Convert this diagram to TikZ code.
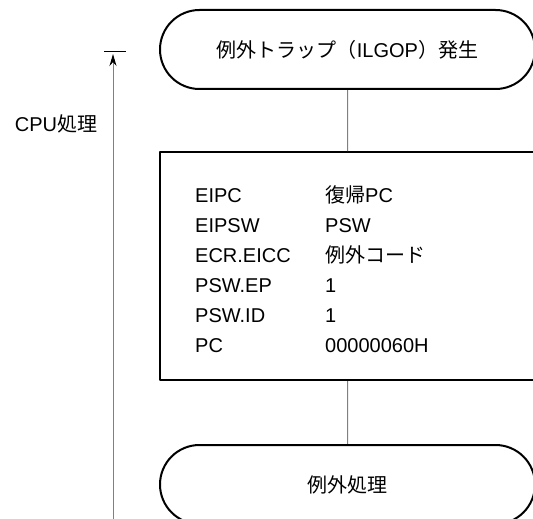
\documentclass[tikz,border=0pt]{standalone}
\usepackage{fontspec}
\setmainfont{Liberation Sans}
\newfontfamily\jp{Noto Sans CJK JP}
\usetikzlibrary{shapes.misc,arrows.meta}
\tikzset{
	term/.style={draw, line width=2pt, rounded rectangle, rounded rectangle arc length=180, minimum width=375pt, minimum height=79pt, inner sep=0pt},
	regbox/.style={draw, line width=2pt, rectangle, minimum width=375pt, minimum height=228pt, inner sep=0pt},
	link/.style={gray, line width=1pt},
	reg/.style={anchor=base west, inner sep=0pt}
}
\begin{document}
\begin{tikzpicture}[x=1pt, y=-1pt, line join=round, font=\fontsize{20}{24}\selectfont]
				\useasboundingbox (0,0) rectangle (533,519);
				\clip (0,0) rectangle (533,519);
				\node[term] (trap) at (347.5,49.5) {{\jp 例外トラップ（}ILGOP{\jp ）発生}};
				\node[regbox] (regs) at (347.5,266) {};
				\node[term] (handler) at (347.5,484.5) {\jp 例外処理};
				\draw[link] (trap) -- (regs);
				\draw[link] (regs) -- (handler);
				\foreach \i/\py/\reg/\val in {1/202/EIPC/{{\jp 復帰}PC}, 2/232/EIPSW/PSW, 3/262/ECR.EICC/{\jp 例外コード}, 4/292/PSW.EP/1, 5/322/PSW.ID/1, 6/352/PC/00000060H}
				{
					\node[reg] (r\i) at (195,\py) {\reg};
					\node[reg] (v\i) at (325,\py) {\val};
				}
				\coordinate (cpubot) at (113,530);
				\coordinate (cputop) at (113,54);
				\coordinate (tickl) at (104,52);
				\coordinate (tickr) at (126,52);
				\draw[link, -{Stealth[length=12pt, width=7pt, color=black]}] (cpubot) -- (cputop);
				\draw[line width=1pt] (tickl) -- (tickr);
				\node (cpu) at (56,124) {CPU{\jp 処理}};
\end{tikzpicture}
\end{document}
